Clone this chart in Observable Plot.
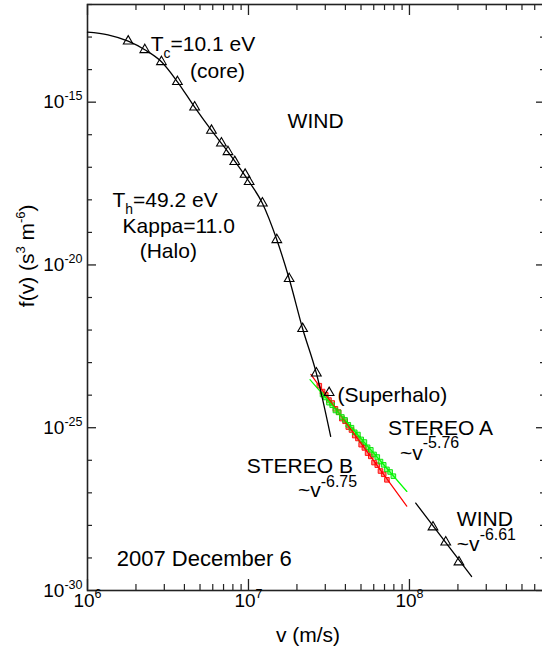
<!DOCTYPE html>
<html><head><meta charset="utf-8">
<script src="https://cdn.jsdelivr.net/npm/d3@7"></script>
<script src="https://cdn.jsdelivr.net/npm/@observablehq/plot@0.6"></script>
<style>html,body{margin:0;padding:0;background:#fff;overflow:hidden}</style>
</head><body><div id="chart"></div>
<script>
// WIND measurements (triangles)
const windV = [1.79e6, 2.27e6, 2.88e6, 3.62e6, 4.63e6, 5.89e6, 6.79e6, 7.46e6, 8.22e6, 9.53e6, 1.01e7, 1.22e7, 1.50e7, 1.79e7, 2.17e7, 2.64e7, 3.17e7, 1.40e8, 1.68e8, 2.03e8];
const windF = [7.46e-14, 4.06e-14, 1.74e-14, 4.23e-15, 7.01e-16, 1.35e-16, 5.50e-17, 2.99e-17, 1.48e-17, 6.01e-18, 3.59e-18, 7.89e-19, 5.93e-20, 3.76e-21, 1.10e-22, 4.74e-24, 1.19e-24, 8.85e-29, 3.06e-29, 7.44e-30];
// core + halo model curve
const modelV = [1.0e6, 1.34e6, 1.79e6, 2.27e6, 2.88e6, 3.62e6, 4.63e6, 5.89e6, 7.46e6, 1.01e7, 1.22e7, 1.50e7, 1.79e7, 2.17e7, 2.64e7, 3.24e7];
const modelF = [1.41e-13, 1.17e-13, 7.46e-14, 4.06e-14, 1.74e-14, 4.23e-15, 7.01e-16, 1.35e-16, 2.99e-17, 3.59e-18, 7.89e-19, 5.93e-20, 3.76e-21, 1.10e-22, 4.74e-24, 5.40e-26];
// WIND superhalo power-law fit
const windFitV = [1.094e8, 2.43e8];
const windFitF = [4.83e-28, 2.70e-30];
// STEREO B (red)
const stereoBV = [2.754e7, 2.884e7, 3.020e7, 3.162e7, 3.311e7, 3.467e7, 3.631e7, 3.802e7, 3.981e7, 4.169e7, 4.365e7, 4.571e7, 4.786e7, 5.012e7, 5.248e7, 5.495e7, 5.754e7, 6.026e7, 6.310e7, 6.607e7, 6.918e7, 7.244e7];
const stereoBF = [1.95e-24, 1.29e-24, 1.02e-24, 7.08e-25, 5.75e-25, 3.80e-25, 3.02e-25, 1.91e-25, 1.58e-25, 1.05e-25, 8.51e-26, 5.75e-26, 4.68e-26, 3.02e-26, 2.40e-26, 1.66e-26, 1.32e-26, 8.51e-27, 7.08e-27, 4.68e-27, 3.72e-27, 2.51e-27];
const stereoBFitV = [2.44e7, 9.62e7];
const stereoBFitF = [4.33e-24, 3.90e-28];
// STEREO A (green)
const stereoAV = [2.884e7, 3.020e7, 3.162e7, 3.311e7, 3.467e7, 3.631e7, 3.802e7, 3.981e7, 4.169e7, 4.365e7, 4.571e7, 4.786e7, 5.012e7, 5.248e7, 5.495e7, 5.754e7, 6.026e7, 6.310e7, 6.607e7, 6.918e7, 7.244e7, 7.586e7, 7.943e7];
const stereoAF = [1.05e-24, 8.51e-25, 5.89e-25, 4.90e-25, 3.39e-25, 2.95e-25, 2.14e-25, 1.74e-25, 1.23e-25, 1.00e-25, 7.24e-26, 6.17e-26, 4.37e-26, 3.63e-26, 2.51e-26, 2.09e-26, 1.51e-26, 1.26e-26, 9.12e-27, 7.24e-27, 5.25e-27, 4.37e-27, 3.25e-27];
const stereoAFitV = [2.41e7, 9.64e7];
const stereoAFitF = [2.98e-24, 1.10e-27];
// Axis ticks and labels
const xLabeled = [1e6, 1e7, 1e8];
const xTickLabels = ["10^[0.66,0.45]{6}", "10^[0.66,0.45]{7}", "10^[0.66,0.45]{8}"];
const xMinor = [];
for (const d of [1e6, 1e7, 1e8]) for (let k = 2; k <= 9; k++) if (k * d < 7e8) xMinor.push(k * d);
const yLabeled = [1e-30, 1e-25, 1e-20, 1e-15];
const yTickLabels = ["10^[0.66,0.42]{-30}", "10^[0.66,0.42]{-25}", "10^[0.66,0.42]{-20}", "10^[0.66,0.42]{-15}"];
const yMinor = [];
for (let e = -30; e <= -12; e++) if (e % 5 !== 0) yMinor.push(Math.pow(10, e));
const xTitle = "v (m/s)";
const yTitle = "f(v) (s^[0.62,0.42]{3} m^[0.62,0.42]{-6})";
// Annotations (text, anchor position in data units)
const noteText = ["T_[0.66,0.38]{c}=10.1 eV", "(core)", "WIND", "T_[0.66,0.32]{h}=49.2 eV", "Kappa=11.0", "(Halo)", "(Superhalo)", "STEREO A", "~v^[0.76,0.57]{-5.76}", "STEREO B", "~v^[0.76,0.5]{-6.75}", "WIND", "~v^[0.76,0.55]{-6.61}"];
const noteV = [2.47e6, 4.34e6, 1.75e7, 1.43e6, 1.65e6, 2.11e6, 3.57e7, 7.36e7, 8.74e7, 9.76e6, 2.03e7, 1.97e8, 1.97e8];
const noteF = [3.86e-14, 5.71e-15, 1.66e-16, 5.93e-19, 9.89e-20, 1.69e-20, 6.05e-25, 6.15e-26, 1.03e-26, 3.99e-27, 7.30e-28, 9.86e-29, 1.60e-29];
const dateText = "2007 December 6";
const dateV = 1.52e6, dateF = 5.82e-30;

const pts = (V, F) => V.map((v, i) => ({v, f: F[i]}));
const W = 545, H = 652, mL = 87, mR = 0, mT = 4, mB = 62;
const iw = W - mL - mR, ih = H - mT - mB;
const axisColor = "#222";

const svg = Plot.plot({
  width: W, height: H,
  marginLeft: mL, marginRight: mR, marginTop: mT, marginBottom: mB,
  style: {fontFamily: "'Liberation Sans', Arial, Helvetica, sans-serif", background: "#fff", color: "#000", overflow: "visible"},
  x: {type: "log", domain: [1e6, 7e8], axis: null},
  y: {type: "log", domain: [1e-30, 1e-12], axis: null},
  marks: [
    // ticks (inward)
    Plot.tickX(xMinor, {insetTop: ih - 6, stroke: axisColor, strokeWidth: 1.2}),
    Plot.tickX(xMinor, {insetBottom: ih - 6, stroke: axisColor, strokeWidth: 1.2}),
    Plot.tickX(xLabeled, {insetTop: ih - 11, stroke: axisColor, strokeWidth: 1.3}),
    Plot.tickX(xLabeled, {insetBottom: ih - 11, stroke: axisColor, strokeWidth: 1.3}),
    Plot.tickY(yMinor, {insetRight: iw - 5, stroke: axisColor, strokeWidth: 1.2}),
    Plot.tickY(yMinor, {insetLeft: iw - 5, stroke: axisColor, strokeWidth: 1.2}),
    Plot.tickY(yLabeled, {insetRight: iw - 9, stroke: axisColor, strokeWidth: 1.3}),
    Plot.tickY(yLabeled, {insetLeft: iw - 9, stroke: axisColor, strokeWidth: 1.3}),
    Plot.frame({stroke: axisColor, strokeWidth: 1.6}),
    // tick labels
    Plot.text(yLabeled.map((v, i) => ({v, t: yTickLabels[i]})), {y: "v", text: "t", frameAnchor: "left", textAnchor: "end", dx: -5, fontSize: 19, fill: "#000"}),
    Plot.text(xLabeled.map((v, i) => ({v, t: xTickLabels[i]})), {x: "v", text: "t", frameAnchor: "bottom", lineAnchor: "top", dy: 3, fontSize: 19, fill: "#000"}),
    // axis titles
    Plot.text([xTitle], {frameAnchor: "bottom", lineAnchor: "bottom", dx: -8.5, dy: 51.7, fontSize: 21, fill: "#000"}),
    Plot.text([yTitle], {frameAnchor: "left", rotate: -90, lineAnchor: "bottom", dx: -54, dy: 9.7, fontSize: 21, fill: "#000"}),
    // STEREO data
    Plot.dot(pts(stereoBV, stereoBF), {x: "v", y: "f", symbol: "square", r: 2.6, fill: "#ff2020", fillOpacity: 0.55, stroke: "#ff0000", strokeWidth: 0.9}),
    Plot.dot(pts(stereoAV, stereoAF), {x: "v", y: "f", symbol: "square", r: 2.6, fill: "#40ff40", fillOpacity: 0.55, stroke: "#00e000", strokeWidth: 0.9}),
    Plot.line(pts(stereoBFitV, stereoBFitF), {x: "v", y: "f", stroke: "#ff0000", strokeWidth: 1.2}),
    Plot.line(pts(stereoAFitV, stereoAFitF), {x: "v", y: "f", stroke: "#00ff00", strokeWidth: 1.2}),
    // WIND model and data
    Plot.line(pts(modelV, modelF), {x: "v", y: "f", stroke: "#000", strokeWidth: 1.3, curve: "monotone-x"}),
    Plot.line(pts(windFitV, windFitF), {x: "v", y: "f", stroke: "#000", strokeWidth: 1.3}),
    Plot.dot(pts(windV, windF), {x: "v", y: "f", symbol: "triangle", r: 3.6, fill: "none", stroke: "#000", strokeWidth: 1.1}),
    // annotations
    Plot.text(noteText.map((t, i) => ({t, v: noteV[i], f: noteF[i]})), {x: "v", y: "f", text: "t", textAnchor: "start", lineAnchor: "bottom", fontSize: 21, fill: "#000"}),
    Plot.text([{t: dateText, v: dateV, f: dateF}], {x: "v", y: "f", text: "t", textAnchor: "start", lineAnchor: "bottom", fontSize: 22, fill: "#000"})
  ]
});

document.getElementById("chart").appendChild(svg);
svg.setAttribute("width", 542);
svg.setAttribute("viewBox", "0 0 542 652");
svg.style.overflow = "hidden";

// Convert ^[scale,rise]{...} and _[scale,drop]{...} markup into tspans
const NS = "http://www.w3.org/2000/svg";
svg.querySelectorAll("text").forEach(t => {
  const s = t.textContent;
  if (!/[\^_]\[/.test(s)) return;
  const base = parseFloat(getComputedStyle(t).fontSize) || 20;
  const re = /([\^_])\[([\d.]+),([\d.]+)\]\{([^}]*)\}/g;
  t.textContent = "";
  let last = 0, m, shift = 0;
  const add = (txt, size, off) => {
    if (!txt) return;
    const sp = document.createElementNS(NS, "tspan");
    const dy = off - shift;
    if (dy) sp.setAttribute("dy", dy.toFixed(2));
    if (size) sp.setAttribute("font-size", size.toFixed(2));
    shift = off;
    sp.textContent = txt;
    t.appendChild(sp);
  };
  while ((m = re.exec(s))) {
    add(s.slice(last, m.index), null, 0);
    const sc = +m[2], sh = +m[3] * base;
    add(m[4], base * sc, m[1] === "^" ? -sh : sh);
    last = re.lastIndex;
  }
  add(s.slice(last), null, 0);
});
</script>
</body></html>
